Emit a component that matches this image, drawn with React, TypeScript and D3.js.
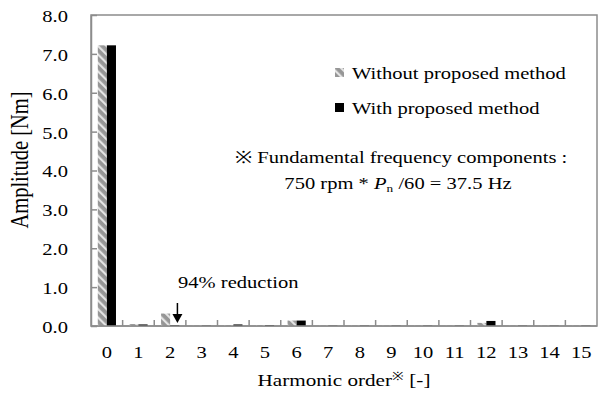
import { useEffect, useRef } from "react";
import * as d3 from "d3";

const harmonics = ["0", "1", "2", "3", "4", "5", "6", "7", "8", "9", "10", "11", "12", "13", "14", "15"];
const withoutMethod = [7.22, 0.05, 0.32, 0.01, 0.02, 0.02, 0.14, 0.01, 0.01, 0.01, 0.01, 0.01, 0.08, 0.01, 0.01, 0.01];
const withMethod = [7.22, 0.04, 0.02, 0.01, 0.04, 0.02, 0.14, 0.01, 0.01, 0.01, 0.01, 0.01, 0.13, 0.01, 0.01, 0.01];
const yTicks = [0, 1, 2, 3, 4, 5, 6, 7, 8];

const W = 600;
const H = 399;
const margin = { top: 15, right: 3, bottom: 73, left: 91 };
const FONT = "'Liberation Serif', 'Times New Roman', serif";
const AXIS_COLOR = "#8c8c8c";
// the reference text is stretched a bit wider than it is tall
const SX = 1.21;

type Sel = d3.Selection<any, unknown, null, undefined>;

function addText(parent: Sel, x: number, y: number, size: number, anchor = "start") {
  return parent.append("text")
    .attr("transform", `translate(${x},${y}) scale(${SX},1)`)
    .attr("text-anchor", anchor)
    .attr("font-family", FONT)
    .attr("font-size", size)
    .attr("fill", "#000");
}

export default function App() {
  const ref = useRef<SVGSVGElement>(null);

  useEffect(() => {
    const svg = d3.select(ref.current) as Sel;
    svg.selectAll("*").remove();

    const width = W - margin.left - margin.right;
    const height = H - margin.top - margin.bottom;

    const x = d3.scaleBand().domain(harmonics).range([0, width]).paddingInner(0).paddingOuter(0);
    const xSub = d3.scaleBand().domain(["without", "with"]).range([x.bandwidth() * 0.215, x.bandwidth() * 0.79]);
    const y = d3.scaleLinear().domain([0, 8]).range([height, 0]);

    // hatch pattern for "without" bars
    const defs = svg.append("defs");
    const pat = defs.append("pattern")
      .attr("id", "hatch")
      .attr("patternUnits", "userSpaceOnUse")
      .attr("width", 6)
      .attr("height", 6)
      .attr("patternTransform", "rotate(-45)");
    pat.append("rect").attr("width", 6).attr("height", 6).attr("fill", "#969696");
    pat.append("rect").attr("x", 0).attr("width", 2.2).attr("height", 6).attr("fill", "#e4e4e4");

    const g = svg.append("g").attr("transform", `translate(${margin.left},${margin.top})`);

    // frame
    g.append("rect")
      .attr("width", width)
      .attr("height", height)
      .attr("fill", "none")
      .attr("stroke", AXIS_COLOR)
      .attr("stroke-width", 1.5);

    // bars
    const groups = g.selectAll("g.grp")
      .data(harmonics)
      .join("g")
      .attr("class", "grp")
      .attr("transform", (d) => `translate(${x(d)},0)`);

    groups.append("rect")
      .attr("x", xSub("without")!)
      .attr("width", xSub.bandwidth())
      .attr("y", (_, i) => y(withoutMethod[i]))
      .attr("height", (_, i) => height - y(withoutMethod[i]))
      .attr("fill", "url(#hatch)");

    groups.append("rect")
      .attr("x", xSub("with")!)
      .attr("width", xSub.bandwidth())
      .attr("y", (_, i) => y(withMethod[i]))
      .attr("height", (_, i) => height - y(withMethod[i]))
      .attr("fill", "#000");

    // y axis
    const yAxis = g.append("g").call(
      d3.axisLeft(y).tickValues(yTicks).tickFormat(d3.format(".1f")).tickSizeInner(-6).tickSizeOuter(0).tickPadding(19)
    );
    yAxis.select(".domain").attr("stroke", AXIS_COLOR).attr("stroke-width", 1.5);
    yAxis.selectAll("line").attr("stroke", AXIS_COLOR).attr("stroke-width", 1.5);
    yAxis.selectAll("text")
      .attr("font-family", FONT)
      .attr("font-size", 17)
      .attr("fill", "#000")
      .attr("dy", "0.38em")
      .attr("transform", `scale(${SX},1)`);

    // x axis: ticks at band boundaries
    const xAxis = g.append("g").attr("transform", `translate(0,${height})`);
    xAxis.append("line").attr("x1", 0).attr("x2", width).attr("stroke", AXIS_COLOR).attr("stroke-width", 1.5);
    xAxis.selectAll("line.tk")
      .data(harmonics.slice(1))
      .join("line")
      .attr("class", "tk")
      .attr("x1", (d) => x(d)!)
      .attr("x2", (d) => x(d)!)
      .attr("y1", 0)
      .attr("y2", -6)
      .attr("stroke", AXIS_COLOR)
      .attr("stroke-width", 1.5);
    harmonics.forEach((d) => {
      addText(xAxis, x(d)! + x.bandwidth() / 2, 32, 17, "middle").text(d);
    });

    // axis titles
    const xt = addText(svg, 344, 386, 17.5, "middle");
    xt.append("tspan").text("Harmonic order");
    xt.append("tspan").attr("font-size", 11.5).attr("dy", -6).text("※");
    xt.append("tspan").attr("dy", 6).text(" [-]");

    svg.append("text")
      .attr("transform", `translate(28,${margin.top + 145}) scale(${SX},1) rotate(-90)`)
      .attr("text-anchor", "middle")
      .attr("font-family", FONT)
      .attr("font-size", 20.5)
      .text("Amplitude [Nm]");

    // legend
    const legend = [
      { label: "Without proposed method", fill: "url(#hatch)", y: 72 },
      { label: "With proposed method", fill: "#000", y: 107 },
    ];
    legend.forEach((l) => {
      svg.append("rect").attr("x", 335).attr("y", l.y - 4).attr("width", 9).attr("height", 9).attr("fill", l.fill);
      addText(svg, 352, l.y + 7, 17).text(l.label);
    });

    // note
    addText(svg, 401, 163, 17, "middle").text("※  Fundamental frequency components :");
    const n2 = addText(svg, 398, 189, 17, "middle");
    n2.append("tspan").text("750 rpm * ");
    n2.append("tspan").attr("font-style", "italic").text("P");
    n2.append("tspan").attr("font-size", 11).attr("dy", 3).text("n");
    n2.append("tspan").attr("dy", -3).text(" /60 = 37.5 Hz");

    // annotation
    addText(svg, 178, 288, 17).text("94% reduction");
    const ax = margin.left + x("2")! + xSub("with")! + xSub.bandwidth() * 0.8;
    svg.append("line")
      .attr("x1", ax).attr("x2", ax)
      .attr("y1", 303).attr("y2", 317)
      .attr("stroke", "#000").attr("stroke-width", 1.5);
    svg.append("path")
      .attr("d", `M${ax - 5},${314} L${ax + 5},${314} L${ax},${323} Z`)
      .attr("fill", "#000");
  }, []);

  return <svg ref={ref} width={W} height={H} style={{ display: "block", position: "absolute", left: 0, top: 0, background: "#fff" }} />;
}
